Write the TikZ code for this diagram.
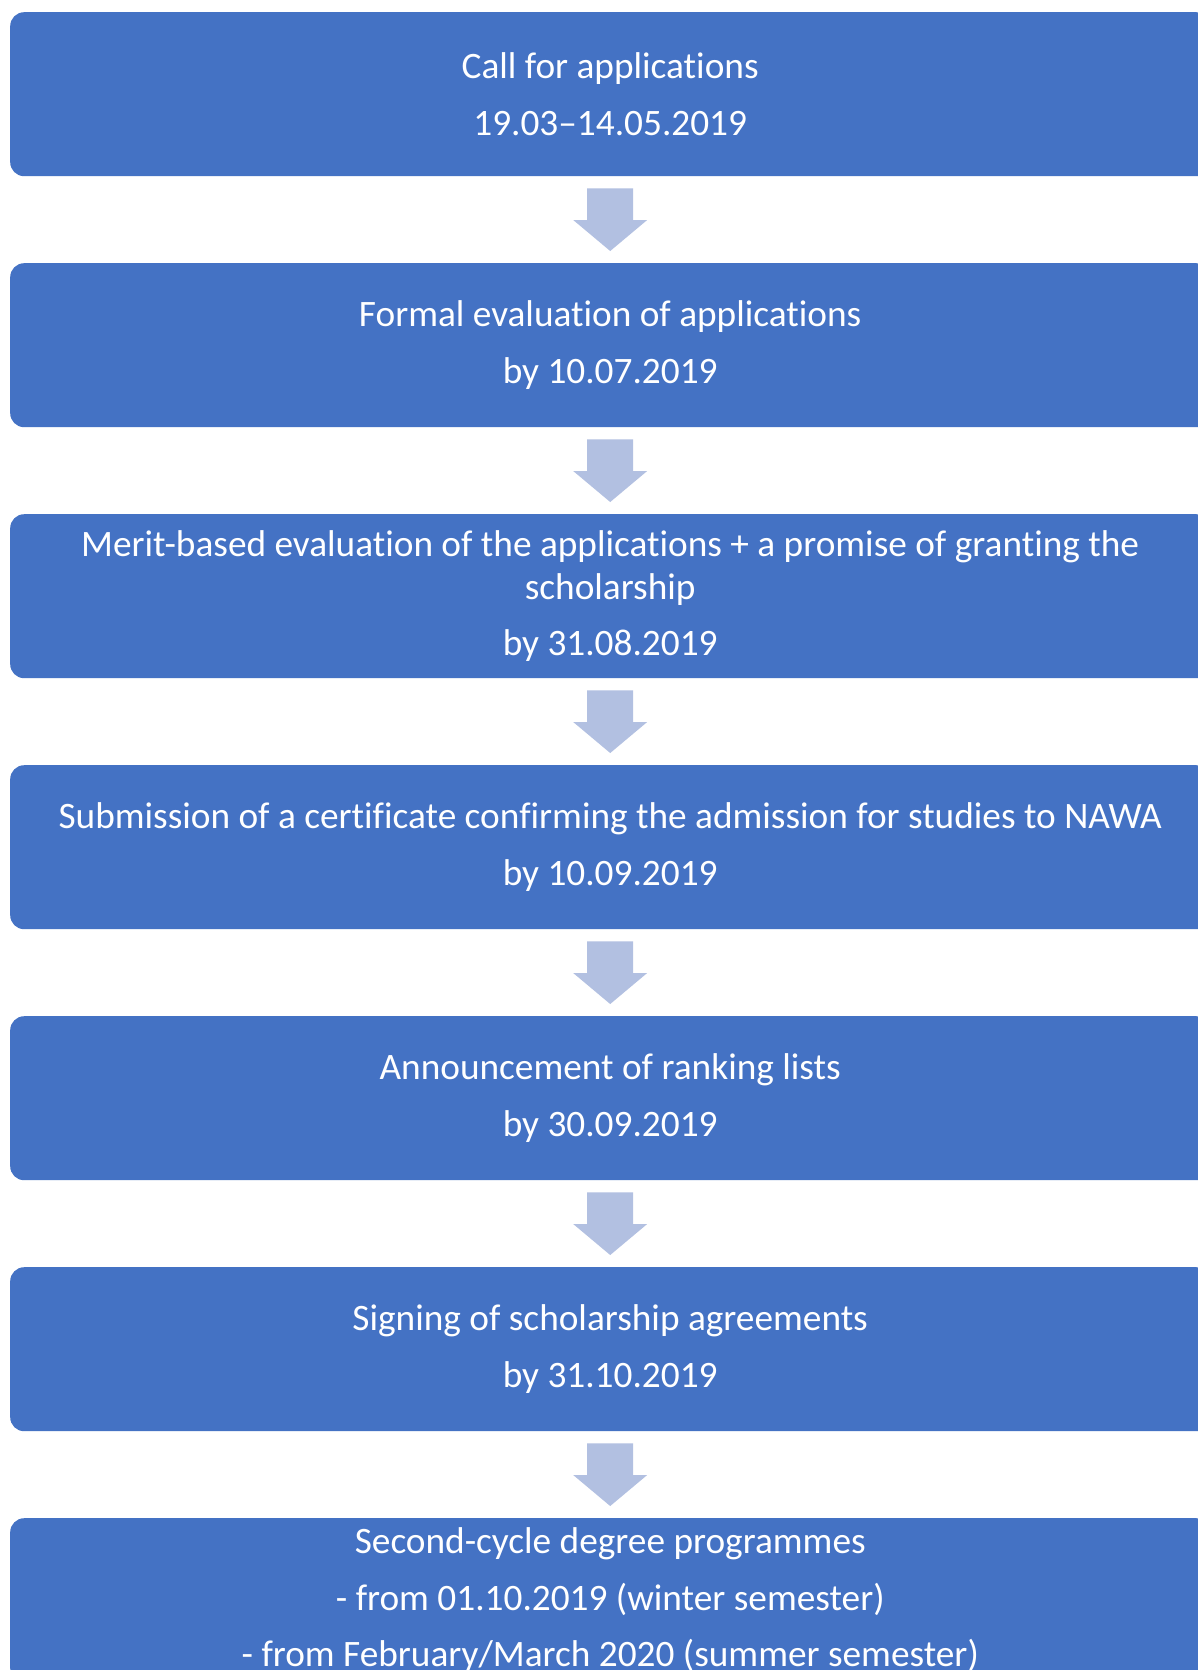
\documentclass[tikz,border=0pt]{standalone}
\usepackage{fontspec}
\setmainfont{Carlito}[Ligatures=NoCommon]
\usetikzlibrary{calc}
\definecolor{boxblue}{HTML}{4472C4}
\definecolor{arrowblue}{HTML}{B2C0E1}
\newcommand\blockarrow[2]{%
  \fill[arrowblue] ($(#1.south)+(-23,12)$) -- ($(#1.south)+(23,12)$)
    -- ($(#2.north)+(23,-43)$) -- ($(#2.north)+(37,-43)$)
    -- ($(#2.north)+(0,-12)$)
    -- ($(#2.north)+(-37,-43)$) -- ($(#2.north)+(-23,-43)$) -- cycle;}
\begin{document}
\begin{tikzpicture}[x=1pt,y=-1pt,
  stepbox/.style={fill=boxblue, draw=none, rounded corners=14pt,
    minimum width=1200pt, minimum height=164pt, inner sep=0pt,
    text=white, align=center, anchor=north west,
    font=\fontsize{37.3}{42.5}\selectfont}]
\useasboundingbox (0,0) rectangle (1198,1670);
\clip (0,0) rectangle (1198,1670);
\fill[white] (0,0) rectangle (1198,1670);
\node[stepbox] (b1) at (10,12) {Call for applications\\[14pt]19.03–14.05.2019};
\node[stepbox] (b2) at (10,263) {Formal evaluation of applications\\[14pt]by 10.07.2019};
\node[stepbox] (b3) at (10,514) {Merit-based evaluation of the applications + a promise of granting the\\scholarship\\[14pt]by 31.08.2019};
\node[stepbox] (b4) at (10,765) {Submission of a certificate confirming the admission for studies to NAWA\\[14pt]by 10.09.2019};
\node[stepbox] (b5) at (10,1016) {Announcement of ranking lists\\[14pt]by 30.09.2019};
\node[stepbox] (b6) at (10,1267) {Signing of scholarship agreements\\[14pt]by 31.10.2019};
\node[stepbox] (b7) at (10,1518) {Second-cycle degree programmes\\[14pt]- from 01.10.2019 (winter semester)\\[14pt]- from February/March 2020 (summer semester)};
\blockarrow{b1}{b2}
\blockarrow{b2}{b3}
\blockarrow{b3}{b4}
\blockarrow{b4}{b5}
\blockarrow{b5}{b6}
\blockarrow{b6}{b7}
\end{tikzpicture}
\end{document}
